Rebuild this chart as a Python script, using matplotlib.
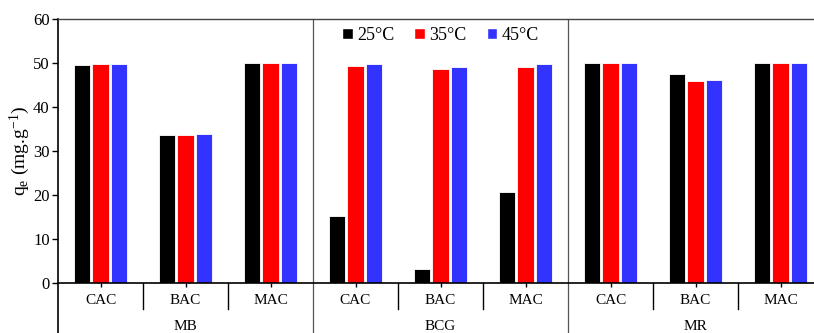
import matplotlib
matplotlib.use("Agg")
import matplotlib.pyplot as plt
import matplotlib.transforms as mtransforms
from matplotlib.patches import Patch
import numpy as np

plt.rcParams['font.family'] = ['Liberation Serif', 'DejaVu Serif']
plt.rcParams['mathtext.fontset'] = 'custom'
plt.rcParams['mathtext.rm'] = 'Liberation Serif'
plt.rcParams['mathtext.it'] = 'Liberation Serif:italic'

groups = ["MB", "BCG", "MR"]
adsorbents = ["CAC", "BAC", "MAC"]
series_labels = ["25°C", "35°C", "45°C"]
colors = ["#000000", "#FF0000", "#3333FF"]
q_25 = [49.6, 33.6, 49.9, 15.2, 3.2, 20.6, 49.9, 47.4, 49.9]
q_35 = [49.8, 33.6, 49.9, 49.3, 48.6, 49.2, 49.9, 45.8, 49.9]
q_45 = [49.8, 33.9, 49.9, 49.8, 49.0, 49.8, 49.9, 46.2, 49.9]
yticks = [0, 10, 20, 30, 40, 50, 60]

W, H = 814, 333
fig = plt.figure(figsize=(W/100, H/100), dpi=100)
ax = fig.add_axes([58/W, (H-283)/H, (823-58)/W, (283-19)/H])

n = len(q_25)
x = np.arange(n) + 0.5
pitch = 0.218
bw = 0.19
for k, (vals, c, lab) in enumerate(zip([q_25, q_35, q_45], colors, series_labels)):
    ax.bar(x + (k-1)*pitch, vals, width=bw, color=c, edgecolor='white', linewidth=0.6, label=lab, zorder=2)

ax.set_xlim(0, n)
ax.set_ylim(0, 60)
ax.set_yticks(yticks)
ax.tick_params(axis='y', direction='out', length=4, width=1, labelsize=12, pad=2)
ax.set_xticks(x)
ax.set_xticklabels([])
ax.tick_params(axis='x', direction='out', length=3, width=1)
ax.spines['left'].set_linewidth(1.2)
ax.spines['bottom'].set_linewidth(1.2)
ax.spines['top'].set_color('#444444')
ax.spines['top'].set_linewidth(1.0)
ax.spines['right'].set_visible(False)
ax.set_ylabel("q$_\\mathrm{e}$ (mg.g$^{\\mathrm{-1}}$)", fontsize=14, labelpad=1)

trans = mtransforms.blended_transform_factory(ax.transData, ax.transAxes)
px = 1.0/(283-19)  # axes fraction per pixel vertically

# left spine extension
ax.plot([0, 0], [0, -60*px], transform=trans, color='black', lw=1.2, clip_on=False)
# category dividers and group dividers
for d in range(1, n):
    if d % 3 == 0:
        ax.plot([d, d], [1, -60*px], transform=trans, color='#555555', lw=0.9, clip_on=False, zorder=1)
    else:
        ax.plot([d, d], [0, -26*px], transform=trans, color='black', lw=1.0, clip_on=False)

for i, xi in enumerate(x):
    ax.text(xi, -17*px, adsorbents[i % 3], transform=trans, ha='center', va='center', fontsize=11)
for g, name in enumerate(groups):
    ax.text(3*g + 1.5, -43*px, name, transform=trans, ha='center', va='center', fontsize=11)

handles = [Patch(facecolor=c, edgecolor='white', label=l) for c, l in zip(colors, series_labels)]
ax.legend(handles=handles, loc='upper center', bbox_to_anchor=(4.5/9, 1.0), ncol=3, frameon=False,
          fontsize=13, handlelength=0.6, handleheight=0.6, handletextpad=0.25, columnspacing=1.1,
          borderaxespad=0.05)

fig.savefig("out.png", dpi=100)
